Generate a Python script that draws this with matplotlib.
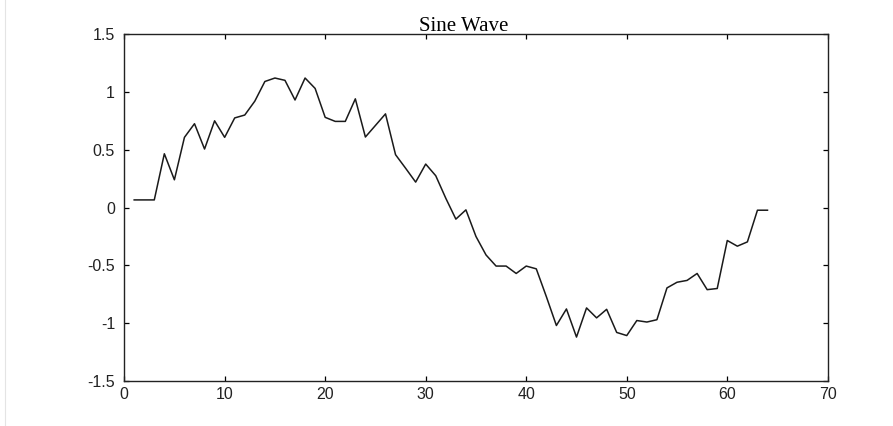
import numpy as np
import matplotlib
matplotlib.use("Agg")
import matplotlib.pyplot as plt
from matplotlib.lines import Line2D

# Sample values
x_values = np.arange(1, 65)
y_values = [
    0.066, 0.066, 0.066, 0.465, 0.24, 0.607, 0.725, 0.506, 0.75, 0.607,
    0.775, 0.80, 0.92, 1.09, 1.12, 1.10, 0.93, 1.12, 1.03, 0.78,
    0.745, 0.745, 0.94, 0.61, 0.71, 0.81, 0.457, 0.34, 0.22, 0.376,
    0.275, 0.08, -0.10, -0.02, -0.25, -0.41, -0.506, -0.506, -0.57, -0.506,
    -0.53, -0.77, -1.02, -0.877, -1.12, -0.868, -0.954, -0.88, -1.08, -1.107,
    -0.977, -0.99, -0.97, -0.695, -0.646, -0.63, -0.57, -0.71, -0.70, -0.285,
    -0.334, -0.297, -0.023, -0.023,
]

x_ticks = [0, 10, 20, 30, 40, 50, 60, 70]
y_ticks = [-1.5, -1, -0.5, 0, 0.5, 1, 1.5]
y_tick_labels = ["-1.5", "-1", "-0.5", "0", "0.5", "1", "1.5"]

fig = plt.figure(figsize=(8.93, 4.26), dpi=100)
ax = fig.add_axes([0.139, 0.1056, 0.788, 0.8144])

ax.plot(x_values, y_values, color="#1a1a1a", linewidth=1.1)

ax.set_xlim(0, 70)
ax.set_ylim(-1.5, 1.5)
ax.set_xticks(x_ticks)
ax.set_xticklabels([str(t) for t in x_ticks])
ax.set_yticks(y_ticks)
ax.set_yticklabels(y_tick_labels)

ax.tick_params(direction="in", length=3.6, width=0.9, top=True, right=True,
               labelsize=11.5, colors="black")
ax.tick_params(axis="y", pad=6.5)
ax.tick_params(axis="x", pad=4.5)
for label in ax.get_xticklabels() + ax.get_yticklabels():
    label.set_fontfamily("Liberation Sans")
    label.set_color("#222222")

for spine in ax.spines.values():
    spine.set_linewidth(1.0)
    spine.set_color("#222222")

ax.set_title("Sine Wave", fontfamily="Liberation Serif", fontsize=15,
             x=0.482, pad=2)

# faint border line at the left edge of the original image
fig.add_artist(Line2D([5 / 893, 5 / 893], [0, 1], color="#e4e4e4",
                      linewidth=0.8, transform=fig.transFigure))

fig.savefig("out.png", dpi=100)
